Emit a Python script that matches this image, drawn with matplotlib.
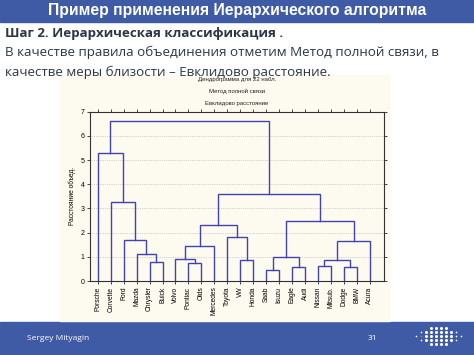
import numpy as np
import matplotlib.pyplot as plt

W, H = 474, 355

leaves = ["Porsche", "Corvette", "Ford", "Mazda", "Chrysler", "Buick",
          "Volvo", "Pontiac", "Olds", "Mercedes", "Toyota", "VW", "Honda",
          "Saab", "Isuzu", "Eagle", "Audi", "Nissan", "Mitsub.", "Dodge",
          "BMW", "Acura"]

# merges: (left node, right node, linkage distance); new node ids start at 22
merge_left = [4, 3, 2, 1, 0, 7, 6, 28, 11, 10, 29, 13, 15, 33, 17, 19, 36, 38, 35, 32, 26]
merge_right = [5, 22, 23, 24, 25, 8, 27, 9, 12, 30, 31, 14, 16, 34, 18, 20, 37, 21, 39, 40, 41]
merge_dist = [0.77, 1.10, 1.69, 3.28, 5.30, 0.73, 0.90, 1.46, 0.88, 1.80, 2.30,
              0.47, 0.59, 1.00, 0.63, 0.56, 0.88, 1.65, 2.48, 3.58, 6.60]

y_ticks = [0, 1, 2, 3, 4, 5, 6, 7]

chart_titles = ["Дендрограмма для 22 набл.", "Метод полной связи", "Евклидово расстояние"]
slide_title = "Пример применения Иерархического алгоритма"
step_text = "Шаг 2. Иерархическая классификация ."
body_lines = ["В качестве правила объединения отметим Метод полной связи, в",
              "качестве меры близости – Евклидово расстояние."]

blue = "#3f5ba6"
line_c = "#4343b0"
txt_c = "#2c3646"


def fx(px):
    return px / W


def fy(py):
    return 1 - py / H


fig = plt.figure(figsize=(W / 100, H / 100), dpi=100)
fig.patch.set_facecolor("white")

# header / footer bars and chart image background
fig.patches.append(plt.Rectangle((0, fy(22)), 1, 22 / H, transform=fig.transFigure,
                                 color=blue, zorder=-2))
fig.patches.append(plt.Rectangle((0, 0), 1, fy(322), transform=fig.transFigure,
                                 color=blue, zorder=-2))
fig.patches.append(plt.Rectangle((fx(60), fy(321)), 330 / W, 246 / H,
                                 transform=fig.transFigure, color="#fdfaf0", zorder=-2))

fig.text(0.5, fy(11), slide_title, ha="center", va="center", color="white",
         fontsize=11.3, fontweight="bold", family="Liberation Sans")
fig.text(fx(5), fy(33), step_text, ha="left", va="center", color=txt_c,
         fontsize=9.6, fontweight="bold", family="Open Sans")
fig.text(fx(5), fy(52), body_lines[0], ha="left", va="center", color=txt_c,
         fontsize=9.6, family="Open Sans")
fig.text(fx(5), fy(72), body_lines[1], ha="left", va="center", color=txt_c,
         fontsize=9.6, family="Open Sans")

for t, py in zip(chart_titles, [80, 91.5, 103]):
    fig.text(fx(237), fy(py), t, ha="center", va="center", fontsize=4.3,
             family="Liberation Sans", color="#222222")

fig.text(fx(27), fy(339), "Sergey Mityagin", ha="left", va="center",
         color="white", fontsize=6, family="Open Sans")
fig.text(fx(368), fy(339), "31", ha="left", va="center",
         color="white", fontsize=6, family="Open Sans")

# logo: dot grid
col_counts = [1, 3, 3, 5, 5, 5, 5, 3, 3, 1]
for i, n in enumerate(col_counts):
    cx = 416 + i * 5
    for j in range(n):
        cy = 336 + (j - (n - 1) / 2) * 4
        s = 2.2 if 1 < i < 8 else 1.2
        c = "#e05a6a" if (i == 1 and j == 1) else "white"
        fig.add_artist(plt.Line2D([fx(cx)], [fy(cy)], marker="o", markersize=s,
                                  markeredgewidth=0, color=c, linestyle="none",
                                  transform=fig.transFigure))

ax = fig.add_axes([fx(90), fy(281), (384 - 90) / W, (281 - 111.7) / H])
ax.set_facecolor("#fdfaf0")

# compute node positions and draw dendrogram links
pos = {i: (float(i), 0.0) for i in range(len(leaves))}
for k, (a, b, d) in enumerate(zip(merge_left, merge_right, merge_dist)):
    xa, ya = pos[a]
    xb, yb = pos[b]
    ax.plot([xa, xa, xb, xb], [ya, d, d, yb], color=line_c, lw=1.0, solid_joinstyle="miter")
    pos[len(leaves) + k] = ((xa + xb) / 2, d)

ax.set_xlim(-0.6, 22.1)
ax.set_ylim(0, 7)
ax.set_yticks(y_ticks)
ax.set_yticklabels([str(v) for v in y_ticks], fontsize=5, family="Liberation Sans")
ax.set_xticks(range(len(leaves)))
ax.set_xticklabels(leaves, rotation=90, fontsize=4.8, family="Liberation Sans")
ax.tick_params(axis="x", direction="out", length=2, width=0.5, pad=2, top=True)
ax.tick_params(axis="y", direction="out", length=2, width=0.5, pad=2, right=True)
ax.grid(axis="y", linestyle=":", color="#aaaaaa", lw=0.5)
ax.set_axisbelow(True)
for sp in ax.spines.values():
    sp.set_linewidth(0.8)
    sp.set_color("#333333")
ax.set_ylabel("Расстояние объед.", fontsize=4.8, family="Liberation Sans", labelpad=3)

fig.savefig("out.png", dpi=100)
